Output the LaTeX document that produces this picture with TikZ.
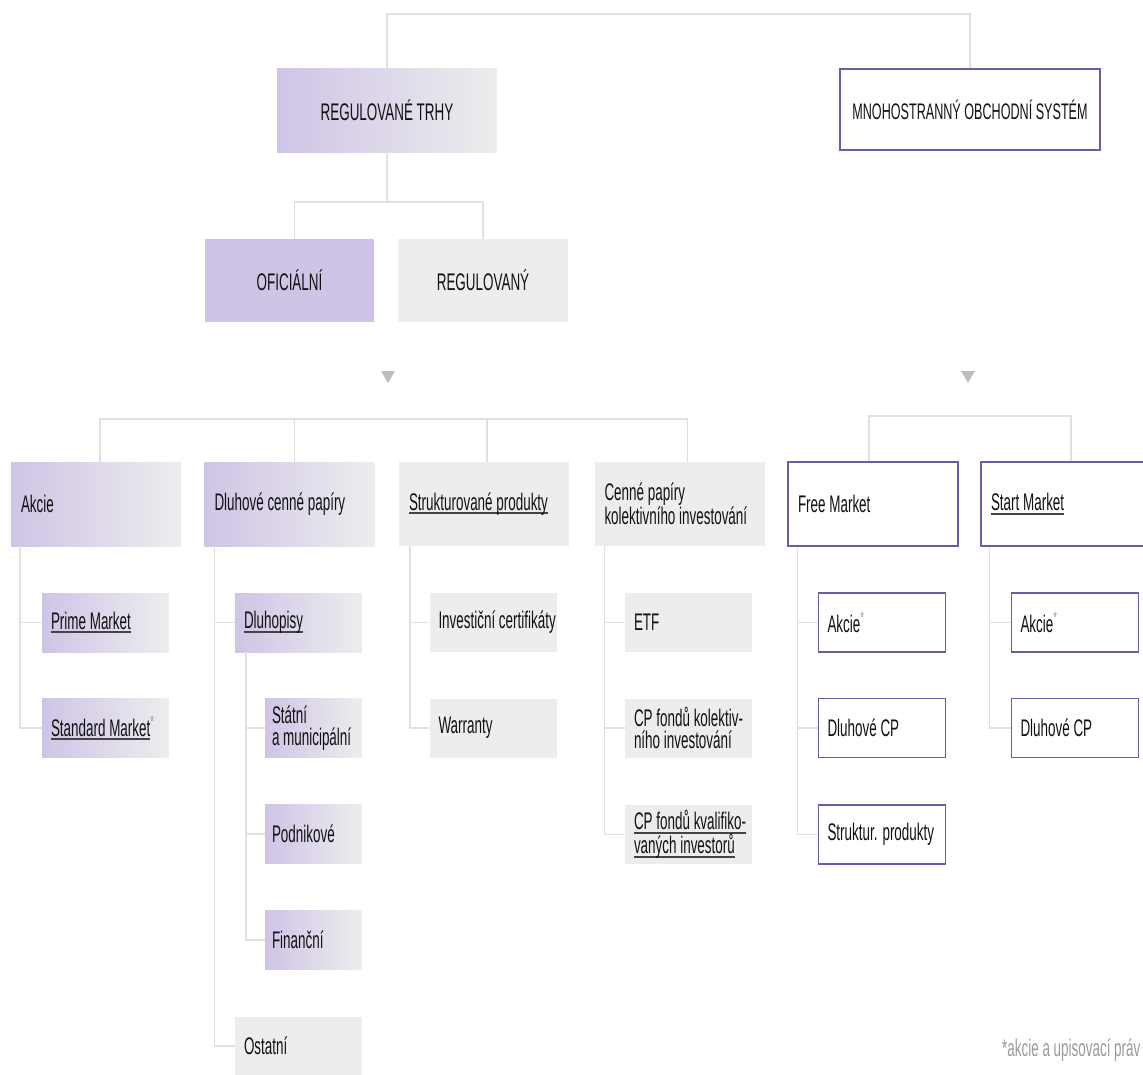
\documentclass[tikz,border=0pt]{standalone}
\usepackage{fontspec}
\setmainfont[FakeStretch=0.56]{Liberation Sans}
\definecolor{pur}{HTML}{CFC4E6}
\definecolor{gry}{HTML}{EDEDED}
\definecolor{bord}{HTML}{6A5CA8}
\definecolor{lin}{HTML}{E0E0E0}
\definecolor{txt}{HTML}{111111}
\definecolor{ulc}{HTML}{444444}
\definecolor{astc}{HTML}{9A9A9A}
\definecolor{tric}{HTML}{BDBDBD}
\newcommand\mainsz{\fontsize{24pt}{22pt}\selectfont}
\newcommand\ulx[1]{\leavevmode\setbox0\hbox{#1}\rlap{\color{ulc}\rule[-4pt]{\wd0}{2pt}}\box0}
\newcommand\astx{\textsuperscript{\color{astc}*}}
\newcommand\lnx[1]{\mbox{#1}}
\tikzset{
  bx/.style={rectangle, inner xsep=10pt, inner ysep=0pt, align=flush left, font=\mainsz, text=txt},
  gradbox/.style={bx, left color=pur, right color=gry, draw=none},
  greybox/.style={bx, fill=gry},
  purbox/.style={bx, fill=pur},
  wbox/.style={bx, fill=white, draw=bord, line width=1.5pt},
  rowtwo/.style={minimum width=170pt, minimum height=84pt, text width=150pt},
  kid/.style={minimum width=127pt, minimum height=59pt, inner xsep=9pt, text width=109pt},
  kidn/.style={minimum width=97pt, minimum height=59pt, inner xsep=7pt, text width=83pt},
  conn/.style={draw=lin, line width=1.5pt},
}
\begin{document}
\begin{tikzpicture}[x=1pt,y=-1pt]
\useasboundingbox (0,0) rectangle (1143,1074);

% top level
\node[gradbox, align=center, minimum width=220pt, minimum height=84pt] (reg) at (387,110) {REGULOVANÉ TRHY};
\node[wbox, align=center, inner xsep=1pt, minimum width=260pt, minimum height=81pt, font=\fontsize{22.5pt}{22pt}\selectfont] (mts) at (970,109.5) {MNOHOSTRANNÝ OBCHODNÍ SYSTÉM};
\node[purbox, align=center, minimum width=169pt, minimum height=83pt] (ofi) at (289.5,280.5) {OFICIÁLNÍ};
\node[greybox, align=center, minimum width=170pt, minimum height=83pt] (regd) at (483,280.5) {REGULOVANÝ};

% triangles
\fill[tric] (381,371) -- (395,371) -- (388,383) -- cycle;
\fill[tric] (961,371) -- (975,371) -- (968,383) -- cycle;

% row two
\node[gradbox, rowtwo] (akc) at (96,504) {\lnx{Akcie}};
\node[gradbox, rowtwo] (dcp) at (289.5,504) {\lnx{Dluhové cenné papíry}};
\node[greybox, rowtwo] (stp) at (484,504) {\ulx{Strukturované produkty}};
\node[greybox, rowtwo] (cpk) at (679.5,504) {\lnx{Cenné papíry}\\\lnx{kolektivního investování}};
\node[wbox, rowtwo] (fm) at (873,504) {\lnx{Free Market}};
\node[wbox, rowtwo] (sm) at (1066,504) {\ulx{Start Market}};

% children
\node[gradbox, kid] (prime) at (105.5,622.5) {\ulx{Prime Market}};
\node[gradbox, kid] (std) at (105.5,728) {\ulx{Standard Market}\astx};
\node[gradbox, kid] (dlh) at (298.5,622.5) {\ulx{Dluhopisy}};
\node[gradbox, kidn] (stat) at (313.5,728) {\lnx{Státní}\\\lnx{a municipální}};
\node[gradbox, kidn] (podn) at (313.5,834) {\lnx{Podnikové}};
\node[gradbox, kidn] (fin) at (313.5,940) {\lnx{Finanční}};
\node[greybox, kid] (ost) at (298.5,1046) {\lnx{Ostatní}};
\node[greybox, kid] (inv) at (493,622.5) {\lnx{Investiční certifikáty}};
\node[greybox, kid] (war) at (493,728) {\lnx{Warranty}};
\node[greybox, kid] (etf) at (688.5,622.5) {\lnx{ETF}};
\node[greybox, kid] (cpfk) at (688.5,728) {\lnx{CP fondů kolektiv-}\\\lnx{ního investování}};
\node[greybox, kid] (cpkv) at (688.5,834.5) {\ulx{CP fondů kvalifiko-}\\\ulx{vaných investorů}};
\node[wbox, kid] (fa) at (882,622.5) {\lnx{Akcie\astx}};
\node[wbox, kid] (fd) at (882,728) {\lnx{Dluhové CP}};
\node[wbox, kid] (fs) at (882,834.5) {\lnx{Struktur. produkty}};
\node[wbox, kid] (sa) at (1075,622.5) {\lnx{Akcie\astx}};
\node[wbox, kid] (sd) at (1075,728) {\lnx{Dluhové CP}};

% footnote
\node[anchor=base west, inner sep=0pt, font=\mainsz, text=astc] (fn) at (1002,1056) {*akcie a upisovací práv};

% connectors top
\draw[conn] (reg.north) -- (reg.north |- 0,14) -| (mts.north);
\draw[conn] (reg.south) -- (reg.south |- 0,202);
\draw[conn] ([xshift=5pt]ofi.north) |- (regd.north |- 0,202) -- (regd.north);

% connectors row two
\draw[conn] ([xshift=4pt]akc.north) |- ([xshift=8pt]cpk.north |- 0,419) -- ([xshift=8pt]cpk.north);
\draw[conn] ([xshift=5pt]dcp.north) -- ([xshift=5pt]dcp.north |- 0,419);
\draw[conn] ([xshift=3pt]stp.north) -- ([xshift=3pt]stp.north |- 0,419);
\draw[conn] ([xshift=-4pt]fm.north) |- ([xshift=5pt]sm.north |- 0,416) -- ([xshift=5pt]sm.north);

% children connectors
\coordinate (akx) at ([xshift=9pt]akc.south west);
\draw[conn] (akx) |- (std.west);
\draw[conn] (prime.west) -- (prime.west -| akx);

\coordinate (dcx) at ([xshift=10pt]dcp.south west);
\draw[conn] (dcx) |- (ost.west);
\draw[conn] (dlh.west) -- (dlh.west -| dcx);

\coordinate (dlx) at ([xshift=11pt]dlh.south west);
\draw[conn] (dlx) |- (fin.west);
\draw[conn] (stat.west) -- (stat.west -| dlx);
\draw[conn] (podn.west) -- (podn.west -| dlx);

\coordinate (stx) at ([xshift=11pt]stp.south west);
\draw[conn] (stx) |- (war.west);
\draw[conn] (inv.west) -- (inv.west -| stx);

\coordinate (cpx) at ([xshift=10pt]cpk.south west);
\draw[conn] (cpx) |- (cpkv.west);
\draw[conn] (etf.west) -- (etf.west -| cpx);
\draw[conn] (cpfk.west) -- (cpfk.west -| cpx);

\coordinate (fmx) at ([xshift=10pt]fm.south west);
\draw[conn] (fmx) |- (fs.west);
\draw[conn] (fa.west) -- (fa.west -| fmx);
\draw[conn] (fd.west) -- (fd.west -| fmx);

\coordinate (smx) at ([xshift=9pt]sm.south west);
\draw[conn] (smx) |- (sd.west);
\draw[conn] (sa.west) -- (sa.west -| smx);
\end{tikzpicture}
\end{document}
